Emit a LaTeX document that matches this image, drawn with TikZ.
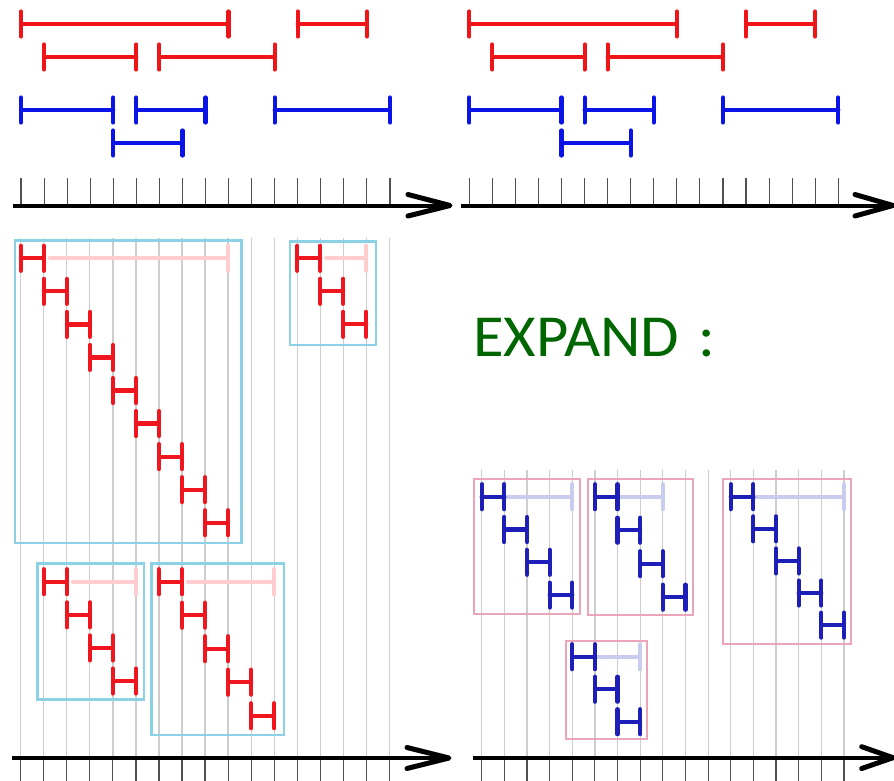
\documentclass[tikz,border=0pt]{standalone}
\usepackage{fontspec}
\setsansfont{Carlito}[FakeStretch=1.05]
\definecolor{topred}{RGB}{238,20,24}
\definecolor{topblue}{RGB}{10,20,230}
\definecolor{hred}{RGB}{240,22,32}
\definecolor{palered}{RGB}{255,205,208}
\definecolor{hblue}{RGB}{30,30,185}
\definecolor{paleblue}{RGB}{200,205,240}
\definecolor{cyanbox}{RGB}{140,210,230}
\definecolor{pinkbox}{RGB}{235,165,185}
\definecolor{gridgray}{RGB}{205,205,205}
\definecolor{tickgray}{RGB}{80,80,80}
\definecolor{expgreen}{RGB}{0,102,0}
\tikzset{
  ival/.style={line width=4.2pt,line cap=round},
  tickline/.style={line width=1.1pt,tickgray},
  gridline/.style={line width=1.2pt,gridgray},
  axisline/.style={line width=4pt,black},
  chevron/.style={line width=5pt,black,line cap=round,line join=round},
  hpiece/.style={line width=4.2pt,line cap=round},
  boxc/.style={line width=2.5pt,cyanbox},
  boxp/.style={line width=2.2pt,pinkbox},
  exptext/.style={text=expgreen,font=\sffamily\fontsize{59.6pt}{62pt}\selectfont,inner sep=0pt}
}
% grid unit and origin (in px = pt)
\newcommand{\gu}{23}
\newcommand{\go}{21}
\newcommand{\setgrid}[2]{\renewcommand{\gu}{#1}\renewcommand{\go}{#2}}
% interval with caps: color, a, b, y
\newcommand{\myIval}[4]{\draw[ival,#1] ({\go+\gu*(#2)},#4-12.5) -- ({\go+\gu*(#2)},#4+12.5) ({\go+\gu*(#2)},#4) -- ({\go+\gu*(#3)},#4) ({\go+\gu*(#3)},#4-12.5) -- ({\go+\gu*(#3)},#4+12.5);}
% H piece: color, a, y
\newcommand{\myH}[3]{\draw[hpiece,#1] ({\go+\gu*(#2)},#3-12.5) -- ({\go+\gu*(#2)},#3+12.5) ({\go+\gu*(#2)},#3) -- ({\go+\gu*(#2+1)},#3) ({\go+\gu*(#2+1)},#3-12.5) -- ({\go+\gu*(#2+1)},#3+12.5);}
% pale tail: color, from, to, y, gap(px)
\newcommand{\myTail}[5]{\draw[hpiece,#1] ({\go+\gu*(#2)+#5},#4) -- ({\go+\gu*(#3)},#4) ({\go+\gu*(#3)},#4-12.5) -- ({\go+\gu*(#3)},#4+12.5);}
\newcommand{\myTopPanel}{%
  \myIval{topred}{0}{9}{24}
  \myIval{topred}{12}{15}{24}
  \myIval{topred}{1}{5}{57}
  \myIval{topred}{6}{11}{57}
  \myIval{topblue}{0}{4}{110}
  \myIval{topblue}{5}{8}{110}
  \myIval{topblue}{11}{16}{110}
  \myIval{topblue}{4}{7}{143}
  \foreach \i in {0,...,16} {\draw[tickline] ({\go+\gu*\i},178) -- ({\go+\gu*\i},205);}}
\begin{document}
\begin{tikzpicture}[x=1pt,y=-1pt]
\useasboundingbox (0,0) rectangle (894,781);
% ---------- text ----------
\node[exptext,anchor=west] (exptitle) at (473,338) {EXPAND \kern5pt:};
% ---------- top panels ----------
\setgrid{23.06}{21}
\myTopPanel
\setgrid{23.06}{469.3}
\myTopPanel
\draw[axisline] (13,205.5) -- (449,205.5);
\draw[chevron] (408,194.5) -- (450,205.5) -- (408,216);
\draw[axisline] (461,205.5) -- (892,205.5);
\draw[chevron] (855,194.5) -- (893,205.5) -- (855,216);
% ---------- bottom-left panel ----------
\setgrid{23.03}{20.8}
\foreach \i in {0,...,16} {
  \draw[gridline] ({\go+\gu*\i},238) -- ({\go+\gu*\i},757);
  \draw[tickline] ({\go+\gu*\i},758) -- ({\go+\gu*\i},781);
}
\draw[axisline] (12,758) -- (448,758);
\draw[chevron] (407,747.5) -- (449,758) -- (407,768.5);
\draw[boxc] (15,240.7) rectangle (241.7,543);
\draw[boxc] (290,241.7) rectangle (376,345);
\draw[boxc] (37.7,563.3) rectangle (144,699.3);
\draw[boxc] (151.7,563.3) rectangle (284,735);
\myTail{palered}{1}{9}{258.3}{6}
\foreach \k in {0,...,8} {\myH{hred}{\k}{258.3+33.05*\k}}
\myTail{palered}{13}{15}{258.3}{6}
\foreach \k in {0,...,2} {\myH{hred}{12+\k}{258.3+33*\k}}
\myTail{palered}{2}{5}{581.7}{6}
\foreach \k in {0,...,3} {\myH{hred}{1+\k}{581.7+33.1*\k}}
\myTail{palered}{7}{11}{581.7}{6}
\foreach \k in {0,...,4} {\myH{hred}{6+\k}{581.7+33.5*\k}}
% ---------- bottom-right panel ----------
\setgrid{22.64}{481.7}
\foreach \i in {0,...,16} {
  \draw[gridline] ({\go+\gu*\i},470) -- ({\go+\gu*\i},757);
  \draw[tickline] ({\go+\gu*\i},758) -- ({\go+\gu*\i},781);
}
\draw[axisline] (473,757.7) -- (892,757.7);
\draw[chevron] (861.7,746.7) -- (893,757.7) -- (861.7,768.5);
\draw[boxp] (474,479) rectangle (580,614);
\draw[boxp] (587.7,479) rectangle (693.3,615);
\draw[boxp] (722.7,479) rectangle (850.7,644);
\draw[boxp] (565.7,641) rectangle (647.3,739);
\myTail{paleblue}{1}{4}{496.7}{2}
\foreach \k in {0,...,3} {\myH{hblue}{\k}{496.7+32.8*\k}}
\myTail{paleblue}{6}{8}{496.7}{2}
\foreach \k in {0,...,3} {\myH{hblue}{5+\k}{496.7+33.5*\k}}
\myTail{paleblue}{12}{16}{496.7}{2}
\foreach \k in {0,...,4} {\myH{hblue}{11+\k}{496.7+32.1*\k}}
\myTail{paleblue}{5}{7}{656.7}{2}
\foreach \k in {0,...,2} {\myH{hblue}{4+\k}{656.7+32.5*\k}}
\end{tikzpicture}
\end{document}
